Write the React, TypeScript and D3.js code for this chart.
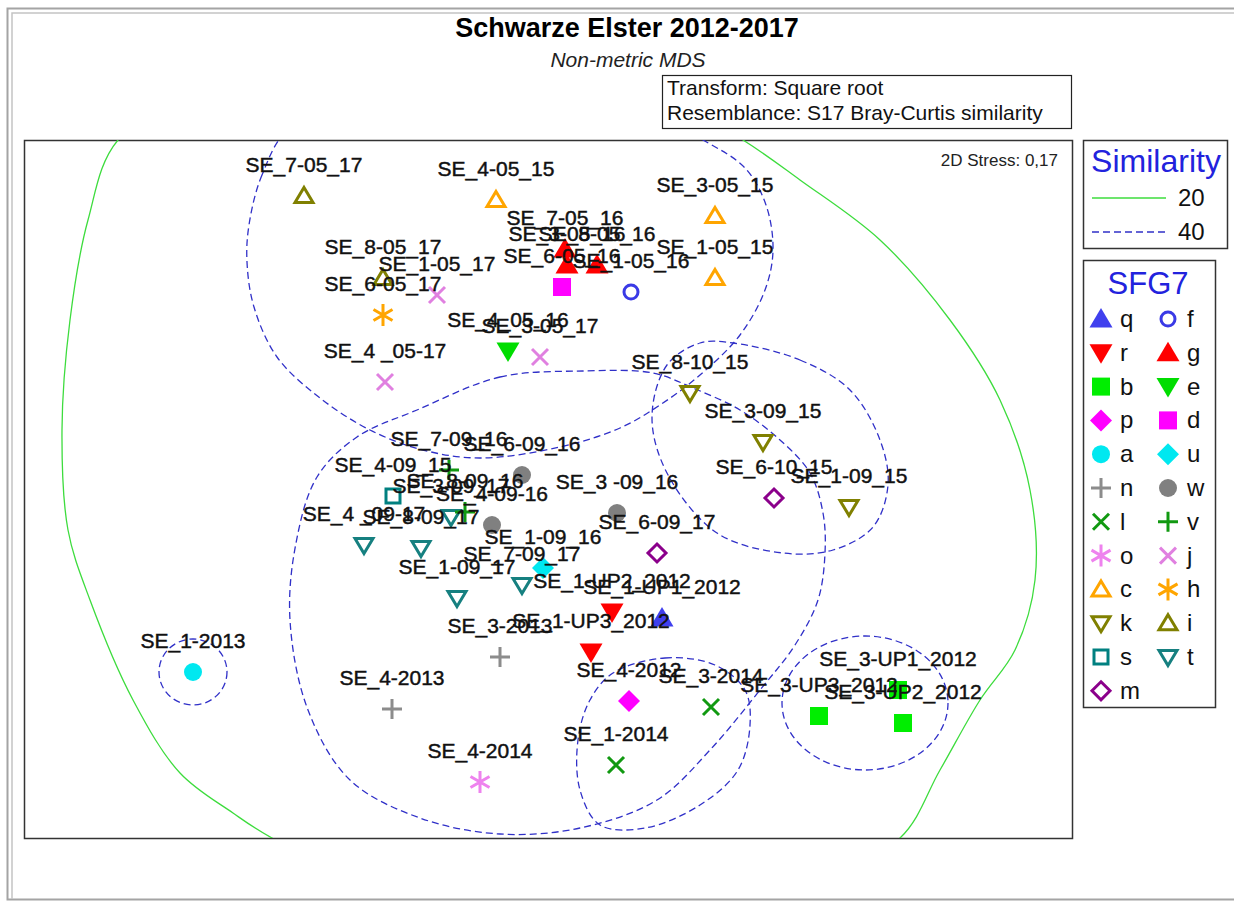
import React from 'react';
import * as d3 from 'd3';

// MDS configuration (2D), one entry per sample
const sampleNames = [
  'SE_7-05_17', 'SE_4-05_15', 'SE_8-05_17', 'SE_1-05_17', 'SE_6-05_17', 'SE_4 _05-17',
  'SE_4_05_16', 'SE_3-05_17', 'SE_7-05_16', 'SE_3-05_16', 'SE_8-05_16', 'SE_6-05_16',
  'SE_1-05_16', 'SE_3-05_15', 'SE_1-05_15', 'SE_8-10_15', 'SE_3-09_15', 'SE_6-10_15',
  'SE_1-09_15', 'SE_3 -09_16', 'SE_6-09_17', 'SE_1-UP1_2012', 'SE_1-UP2_2012', 'SE_1-UP3_2012',
  'SE_3-2013', 'SE_4-2013', 'SE_4-2012', 'SE_3-2014', 'SE_1-2014', 'SE_4-2014',
  'SE_1-2013', 'SE_3-UP1_2012', 'SE_3-UP2_2012', 'SE_3-UP3_2012', 'SE_7-09_16', 'SE_6-09_16',
  'SE_4-09_15', 'SE_3-09_17', 'SE_8-09_16', 'SE_4-09-16', 'SE_4 _09-17', 'SE_8-09_17',
  'SE_1-09_17', 'SE_1-09_16', 'SE_7-09_17',
];
const sampleGroups = [
  'i', 'c', 'i', 'j', 'h', 'j',
  'e', 'j', 'g', 'g', 'g', 'd',
  'f', 'c', 'c', 'k', 'k', 'm',
  'k', 'w', 'm', 'q', 'r', 'r',
  'n', 'n', 'p', 'l', 'l', 'o',
  'a', 'b', 'b', 'b', 'v', 'w',
  's', 't', 'v', 'w', 't', 't',
  't', 'u', 't',
];
const mdsX = [
  -1.22, -0.26, -0.825, -0.555, -0.825, -0.815,
  -0.2, -0.04, 0.085, 0.095, 0.245, 0.07,
  0.415, 0.835, 0.835, 0.71, 1.075, 1.13,
  1.505, 0.345, 0.545, 0.57, 0.32, 0.215,
  -0.24, -0.78, 0.405, 0.815, 0.34, -0.34,
  -1.775, 1.75, 1.775, 1.355, -0.495, -0.13,
  -0.775, -0.485, -0.415, -0.28, -0.92, -0.635,
  -0.455, -0.025, -0.13,
];
const mdsY = [
  1.465, 1.445, 1.055, 0.97, 0.87, 0.535,
  0.69, 0.66, 1.2, 1.12, 1.12, 1.01,
  0.985, 1.365, 1.055, 0.48, 0.235, -0.045,
  -0.09, -0.12, -0.32, -0.645, -0.615, -0.815,
  -0.84, -1.1, -1.06, -1.09, -1.38, -1.465,
  -0.915, -1.005, -1.17, -1.135, 0.095, 0.07,
  -0.035, -0.14, -0.115, -0.18, -0.28, -0.295,
  -0.545, -0.395, -0.48,
];

// legend order (two columns)
const legendCodes = ['q', 'f', 'r', 'g', 'b', 'e', 'p', 'd', 'a', 'u', 'n', 'w', 'l', 'v', 'o', 'j', 'c', 'h', 'k', 'i', 's', 't', 'm'];
const groupShape: Record<string, string> = {
  q: 'triUpF', f: 'circleO', r: 'triDownF', g: 'triUpF', b: 'squareF', e: 'triDownF',
  p: 'diamondF', d: 'squareF', a: 'circleF', u: 'diamondF', n: 'plus', w: 'circleF',
  l: 'cross', v: 'plus', o: 'star', j: 'cross', c: 'triUpO', h: 'star',
  k: 'triDownO', i: 'triUpO', s: 'squareO', t: 'triDownO', m: 'diamondO',
};
const groupColor: Record<string, string> = {
  q: '#4040ee', f: '#3a3ae6', r: '#ff0000', g: '#ff0000', b: '#00ee00', e: '#00dd00',
  p: '#ff00ff', d: '#ff00ff', a: '#00e8f0', u: '#00e8f0', n: '#8c8c8c', w: '#808080',
  l: '#119911', v: '#119911', o: '#ee82ee', j: '#e080e0', c: '#ffa500', h: '#ffa500',
  k: '#808000', i: '#808000', s: '#008080', t: '#168080', m: '#8b008b',
};

// similarity contours
const contour20 = [
  [-2.15, 1.745], [-2.3, 1.345], [-2.39, 0.845], [-2.43, 0.295], [-2.4, -0.205], [-2.29, -0.555],
  [-2.075, -1.055], [-1.84, -1.42], [-1.575, -1.62], [-1.38, -1.745], [-0.74, -2.03], [0.26, -2.155],
  [1.26, -2.005], [1.76, -1.745], [1.96, -1.405], [2.16, -1.055], [2.335, -0.805], [2.435, -0.455],
  [2.41, -0.005], [2.26, 0.445], [2.01, 0.845], [1.66, 1.245], [1.26, 1.545], [0.975, 1.745],
  [0.36, 2.095], [-0.74, 2.17], [-1.64, 2.045],
];
const contour40Top = [
  [-1.29, 1.805], [-1.43, 1.57], [-1.495, 1.32], [-1.505, 1.135], [-1.47, 0.91], [-1.355, 0.66],
  [-1.14, 0.455], [-0.89, 0.295], [-0.625, 0.195], [-0.34, 0.155], [0.06, 0.21], [0.36, 0.305],
  [0.56, 0.42], [0.76, 0.57], [0.96, 0.77], [1.085, 0.995], [1.125, 1.195], [1.09, 1.42],
  [0.985, 1.605], [0.775, 1.745], [0.46, 1.905], [-0.24, 1.985], [-0.89, 1.92],
];
const contour40Mid = [
  [-0.655, 0.395], [-0.24, 0.56], [0.175, 0.59], [0.525, 0.58], [0.725, 0.505], [0.96, 0.395],
  [1.16, 0.245], [1.31, 0.08], [1.375, -0.12], [1.385, -0.32], [1.35, -0.555], [1.235, -0.78],
  [1.06, -1.005], [0.81, -1.305], [0.545, -1.555], [0.16, -1.695], [-0.24, -1.725], [-0.64, -1.645],
  [-0.99, -1.455], [-1.2, -1.105], [-1.29, -0.655], [-1.26, -0.27], [-1.155, 0.06], [-0.955, 0.26],
];
const contour40Right = [
  [0.925, 0.73], [1.26, 0.645], [1.51, 0.495], [1.66, 0.245], [1.7, 0.02], [1.625, -0.19],
  [1.425, -0.305], [1.175, -0.32], [0.845, -0.22], [0.595, 0.08], [0.52, 0.36], [0.595, 0.62],
  [0.76, 0.73],
];
const contour40Low = [
  [0.325, -0.92], [0.585, -0.845], [0.835, -0.88], [0.985, -1.005], [1.01, -1.18], [0.95, -1.405],
  [0.76, -1.58], [0.485, -1.695], [0.26, -1.68], [0.16, -1.505], [0.15, -1.255], [0.21, -1.055],
];
// ellipse-like 40% groups: centre x, centre y, radius x, radius y
const ellipses40 = [
  [1.585, -1.07, 0.415, 0.335],
  [-1.775, -0.915, 0.17, 0.165],
];
const similarityLevels = ['20', '40'];

const W = 1234;
const H = 901;
const FONT = 'Arial, "Liberation Sans", sans-serif';

const xScale = d3.scaleLinear().domain([-2.62, 2.62]).range([24, 1072]);
const yScale = d3.scaleLinear().domain([-1.745, 1.745]).range([838, 140]);

const contourLine = d3
  .line<number[]>()
  .x((d) => xScale(d[0]))
  .y((d) => yScale(d[1]))
  .curve(d3.curveCatmullRomClosed.alpha(0.5));

const Marker = ({ code, x, y }: { code: string; x: number; y: number }) => {
  const shape = groupShape[code];
  const c = groupColor[code];
  const t = `translate(${x},${y})`;
  switch (shape) {
    case 'triUpF':
      return <path transform={t} d="M0,-11L11.5,8.5L-11.5,8.5Z" fill={c} />;
    case 'triDownF':
      return <path transform={t} d="M0,11L11.5,-8.5L-11.5,-8.5Z" fill={c} />;
    case 'triUpO':
      return <path transform={t} d="M0,-8.5L9,6.5L-9,6.5Z" fill="none" stroke={c} strokeWidth={3} />;
    case 'triDownO':
      return <path transform={t} d="M0,8.5L9,-6.5L-9,-6.5Z" fill="none" stroke={c} strokeWidth={3} />;
    case 'squareF':
      return <rect transform={t} x={-9} y={-9} width={18} height={18} fill={c} />;
    case 'squareO':
      return <rect transform={t} x={-7} y={-7} width={14} height={14} fill="none" stroke={c} strokeWidth={3} />;
    case 'diamondF':
      return <path transform={t} d="M0,-11L11,0L0,11L-11,0Z" fill={c} />;
    case 'diamondO':
      return <path transform={t} d="M0,-9L9,0L0,9L-9,0Z" fill="none" stroke={c} strokeWidth={3} />;
    case 'circleF':
      return <circle cx={x} cy={y} r={9} fill={c} />;
    case 'circleO':
      return <circle cx={x} cy={y} r={7} fill="none" stroke={c} strokeWidth={3} />;
    case 'plus':
      return <path transform={t} d="M-10,0H10M0,-10V10" stroke={c} strokeWidth={3} />;
    case 'cross':
      return <path transform={t} d="M-8,-8L8,8M-8,8L8,-8" stroke={c} strokeWidth={3} />;
    case 'star':
      return <path transform={t} d="M0,-11V11M-9.5,-5.5L9.5,5.5M-9.5,5.5L9.5,-5.5" stroke={c} strokeWidth={3} />;
    default:
      return null;
  }
};

export default function App() {
  const rows = d3.range(Math.ceil(legendCodes.length / 2));
  return (
    <svg
      width={W}
      height={H}
      style={{ position: 'absolute', left: 0, top: 0, background: '#fff' }}
      fontFamily={FONT}
    >
      <defs>
        <clipPath id="plotClip">
          <rect x={24} y={140} width={1048} height={698} />
        </clipPath>
      </defs>
      <rect width={W} height={H} fill="#fff" />
      {/* page frame */}
      <path d="M1240,8.5H7.5V899.5H1240" fill="none" stroke="#a4a4a4" strokeWidth={2} />
      <path d="M1240,13H12V899" fill="none" stroke="#c4c4c4" strokeWidth={1.5} />

      <text x={627} y={37} textAnchor="middle" fontSize={27} fontWeight="bold">
        Schwarze Elster 2012-2017
      </text>
      <text x={628} y={67} textAnchor="middle" fontSize={21} fontStyle="italic" fill="#222">
        Non-metric MDS
      </text>
      <rect x={662.5} y={75.5} width={409} height={53} fill="none" stroke="#222" strokeWidth={1.2} />
      <text x={667} y={95} fontSize={21} fill="#111">Transform: Square root</text>
      <text x={667} y={120} fontSize={21} fill="#111">Resemblance: S17 Bray-Curtis similarity</text>

      {/* plot */}
      <rect x={24.5} y={140.5} width={1048} height={698} fill="#fff" stroke="#333" strokeWidth={1.5} />
      <g clipPath="url(#plotClip)">
        <path d={contourLine(contour20) || ''} fill="none" stroke="#3ddc3d" strokeWidth={1.3} />
        {[contour40Top, contour40Mid, contour40Right, contour40Low].map((c, i) => (
          <path key={i} d={contourLine(c) || ''} fill="none" stroke="#3030c8" strokeWidth={1.3} strokeDasharray="7,4" />
        ))}
        {ellipses40.map((e, i) => (
          <ellipse
            key={i}
            cx={xScale(e[0])}
            cy={yScale(e[1])}
            rx={xScale(e[0] + e[2]) - xScale(e[0])}
            ry={yScale(e[1] - e[3]) - yScale(e[1])}
            fill="none"
            stroke="#3030c8"
            strokeWidth={1.3}
            strokeDasharray="7,4"
          />
        ))}
      </g>
      <text x={1058} y={166} textAnchor="end" fontSize={17} fill="#222">2D Stress: 0,17</text>
      {sampleNames.map((name, i) => (
        <Marker key={'m' + i} code={sampleGroups[i]} x={xScale(mdsX[i])} y={yScale(mdsY[i])} />
      ))}
      {sampleNames.map((name, i) => (
        <text
          key={'t' + i}
          x={xScale(mdsX[i])}
          y={yScale(mdsY[i]) - 24}
          textAnchor="middle"
          fontSize={21}
          fill="#111"
          stroke="#111"
          strokeWidth={0.45}
        >
          {name}
        </text>
      ))}

      {/* similarity legend */}
      <rect x={1083.5} y={140.5} width={144} height={108} fill="#fff" stroke="#333" strokeWidth={1.5} />
      <text x={1156} y={172} textAnchor="middle" fontSize={32} fill="#2222dd">Similarity</text>
      {similarityLevels.map((lvl, i) => (
        <g key={lvl}>
          <line
            x1={1092}
            x2={1166}
            y1={198 + i * 34}
            y2={198 + i * 34}
            stroke={i === 0 ? '#3ddc3d' : '#3030c8'}
            strokeWidth={1.3}
            strokeDasharray={i === 0 ? undefined : '7,4'}
          />
          <text x={1178} y={206 + i * 34} fontSize={24} fill="#111">{lvl}</text>
        </g>
      ))}

      {/* group legend */}
      <rect x={1083.5} y={260.5} width={132} height={447} fill="#fff" stroke="#333" strokeWidth={1.5} />
      <text x={1148} y={294} textAnchor="middle" fontSize={31} fill="#2222dd">SFG7</text>
      {rows.map((r) =>
        [0, 1].map((col) => {
          const code = legendCodes[r * 2 + col];
          if (!code) return null;
          const yy = 319 + r * 33.8;
          const mx = col === 0 ? 1101 : 1168;
          return (
            <g key={code}>
              <Marker code={code} x={mx} y={yy} />
              <text x={mx + 19} y={yy + 8} fontSize={24} fill="#111">{code}</text>
            </g>
          );
        })
      )}
    </svg>
  );
}
